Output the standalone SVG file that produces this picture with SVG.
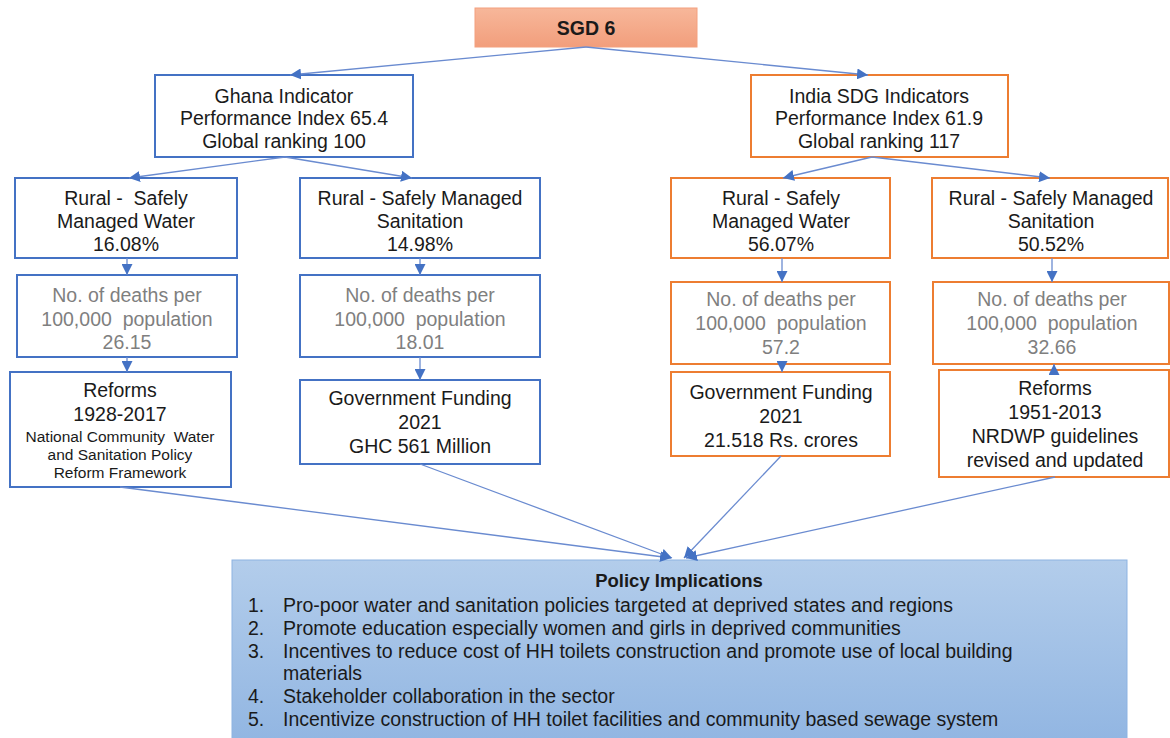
<svg xmlns="http://www.w3.org/2000/svg" width="1170" height="738" viewBox="0 0 1170 738">
<style>
text{font-family:"Liberation Sans",Arial,sans-serif;font-size:19.5px;fill:#1a1a1a;text-anchor:middle}
.b{fill:#fff;stroke:#4472C4;stroke-width:2}
.o{fill:#fff;stroke:#ED7D31;stroke-width:2}
.g{fill:#7f7f7f}
.s{font-size:15.5px}
.c{stroke:#6a8bd0;stroke-width:1.3;fill:none}
.l{text-anchor:start}
</style>
<defs>
<linearGradient id="sg" x1="0" y1="0" x2="0" y2="1"><stop offset="0" stop-color="#F7B79A"/><stop offset="1" stop-color="#F29E7C"/></linearGradient>
<linearGradient id="pg" x1="0" y1="0" x2="0" y2="1"><stop offset="0" stop-color="#B3CDEB"/><stop offset="1" stop-color="#92B6E2"/></linearGradient>
<marker id="a" viewBox="0 0 10 10" refX="10" refY="5" markerWidth="11" markerHeight="11" markerUnits="userSpaceOnUse" orient="auto"><path d="M0,0L10,5L0,10z" fill="#4472C4"/></marker>
</defs>
<g id="sgd6">
<rect x="475" y="8" width="222" height="39" fill="url(#sg)" stroke="#F4A07E" stroke-width="1"/>
<text x="586" y="35" font-weight="bold">SGD 6</text>
</g>
<g id="ghana">
<rect class="b" x="155" y="75" width="258" height="82"/>
<text x="284" y="103">Ghana Indicator</text>
<text x="284" y="125">Performance Index 65.4</text>
<text x="284" y="148">Global ranking 100</text>
</g>
<g id="india">
<rect class="o" x="751" y="75" width="257" height="82"/>
<text x="879" y="103">India SDG Indicators</text>
<text x="879" y="125">Performance Index 61.9</text>
<text x="879" y="148">Global ranking 117</text>
</g>
<g id="gh-water">
<rect class="b" x="15" y="178" width="222" height="80"/>
<text x="126" y="205" xml:space="preserve">Rural -  Safely</text>
<text x="126" y="228">Managed Water</text>
<text x="126" y="251">16.08%</text>
</g>
<g id="gh-san">
<rect class="b" x="300" y="178" width="240" height="80"/>
<text x="420" y="205">Rural - Safely Managed</text>
<text x="420" y="228">Sanitation</text>
<text x="420" y="251">14.98%</text>
</g>
<g id="in-water">
<rect class="o" x="671" y="178" width="219" height="80"/>
<text x="781" y="205">Rural - Safely</text>
<text x="781" y="228">Managed Water</text>
<text x="781" y="251">56.07%</text>
</g>
<g id="in-san">
<rect class="o" x="932" y="178" width="236" height="80"/>
<text x="1051" y="205">Rural - Safely Managed</text>
<text x="1051" y="228">Sanitation</text>
<text x="1051" y="251">50.52%</text>
</g>
<g id="gh-deaths-water">
<rect class="b" x="17" y="275" width="220" height="82"/>
<text class="g" x="127" y="302">No. of deaths per</text>
<text class="g" x="127" y="326" xml:space="preserve">100,000  population</text>
<text class="g" x="127" y="349">26.15</text>
</g>
<g id="gh-deaths-san">
<rect class="b" x="300" y="275" width="240" height="82"/>
<text class="g" x="420" y="302">No. of deaths per</text>
<text class="g" x="420" y="326" xml:space="preserve">100,000  population</text>
<text class="g" x="420" y="349">18.01</text>
</g>
<g id="in-deaths-water">
<rect class="o" x="671" y="282" width="219" height="82"/>
<text class="g" x="781" y="306">No. of deaths per</text>
<text class="g" x="781" y="330" xml:space="preserve">100,000  population</text>
<text class="g" x="781" y="354">57.2</text>
</g>
<g id="in-deaths-san">
<rect class="o" x="933" y="282" width="236" height="82"/>
<text class="g" x="1052" y="306">No. of deaths per</text>
<text class="g" x="1052" y="330" xml:space="preserve">100,000  population</text>
<text class="g" x="1052" y="354">32.66</text>
</g>
<g id="gh-reforms">
<rect class="b" x="10" y="372" width="221" height="115"/>
<text x="120" y="397">Reforms</text>
<text x="120" y="421">1928-2017</text>
<text class="s" x="120" y="442" xml:space="preserve">National Community  Water</text>
<text class="s" x="120" y="460">and Sanitation Policy</text>
<text class="s" x="120" y="478">Reform Framework</text>
</g>
<g id="gh-funding">
<rect class="b" x="300" y="380" width="240" height="84"/>
<text x="420" y="405">Government Funding</text>
<text x="420" y="429">2021</text>
<text x="420" y="453">GHC 561 Million</text>
</g>
<g id="in-funding">
<rect class="o" x="671" y="372" width="219" height="84"/>
<text x="781" y="399">Government Funding</text>
<text x="781" y="423">2021</text>
<text x="781" y="447">21.518 Rs. crores</text>
</g>
<g id="in-reforms">
<rect class="o" x="939" y="370" width="230" height="107"/>
<text x="1055" y="395">Reforms</text>
<text x="1055" y="419">1951-2013</text>
<text x="1055" y="443">NRDWP guidelines</text>
<text x="1055" y="467">revised and updated</text>
</g>
<g id="policy">
<rect x="232" y="560" width="895" height="180" fill="url(#pg)" stroke="#8DB3E2" stroke-width="1"/>
<text x="679" y="587" font-weight="bold" style="font-size:18.5px">Policy Implications</text>
<text class="l" x="248" y="612">1.</text><text class="l" x="283" y="612">Pro-poor water and sanitation policies targeted at deprived states and regions</text>
<text class="l" x="248" y="635">2.</text><text class="l" x="283" y="635">Promote education especially women and girls in deprived communities</text>
<text class="l" x="248" y="658">3.</text><text class="l" x="283" y="658">Incentives to reduce cost of HH toilets construction and promote use of local building</text>
<text class="l" x="283" y="680">materials</text>
<text class="l" x="248" y="703">4.</text><text class="l" x="283" y="703">Stakeholder collaboration in the sector</text>
<text class="l" x="248" y="726">5.</text><text class="l" x="283" y="726">Incentivize construction of HH toilet facilities and community based sewage system</text>
</g>
<g id="connectors">
<path class="c" marker-end="url(#a)" d="M586,47L290,75"/>
<path class="c" marker-end="url(#a)" d="M586,47L868,75"/>
<path class="c" marker-end="url(#a)" d="M285,157L129,178"/>
<path class="c" marker-end="url(#a)" d="M285,157L412,178"/>
<path class="c" marker-end="url(#a)" d="M872,157L783,178"/>
<path class="c" marker-end="url(#a)" d="M872,157L1050,178"/>
<path class="c" marker-end="url(#a)" d="M127,258L127,275"/>
<path class="c" marker-end="url(#a)" d="M127,357L127,372"/>
<path class="c" marker-end="url(#a)" d="M420,258L420,275"/>
<path class="c" marker-end="url(#a)" d="M420,357L420,380"/>
<path class="c" marker-end="url(#a)" d="M782,258L782,282"/>
<path class="c" marker-end="url(#a)" d="M782,364L782,372"/>
<path class="c" marker-end="url(#a)" d="M1052,258L1052,282"/>
<path class="c" marker-end="url(#a)" d="M1054,372L1054,364"/>
<path class="c" marker-end="url(#a)" d="M120,487L671,558"/>
<path class="c" marker-end="url(#a)" d="M420,464L672,558"/>
<path class="c" marker-end="url(#a)" d="M781,456L684,558"/>
<path class="c" marker-end="url(#a)" d="M1055,477L686,558"/>
</g>
</svg>
